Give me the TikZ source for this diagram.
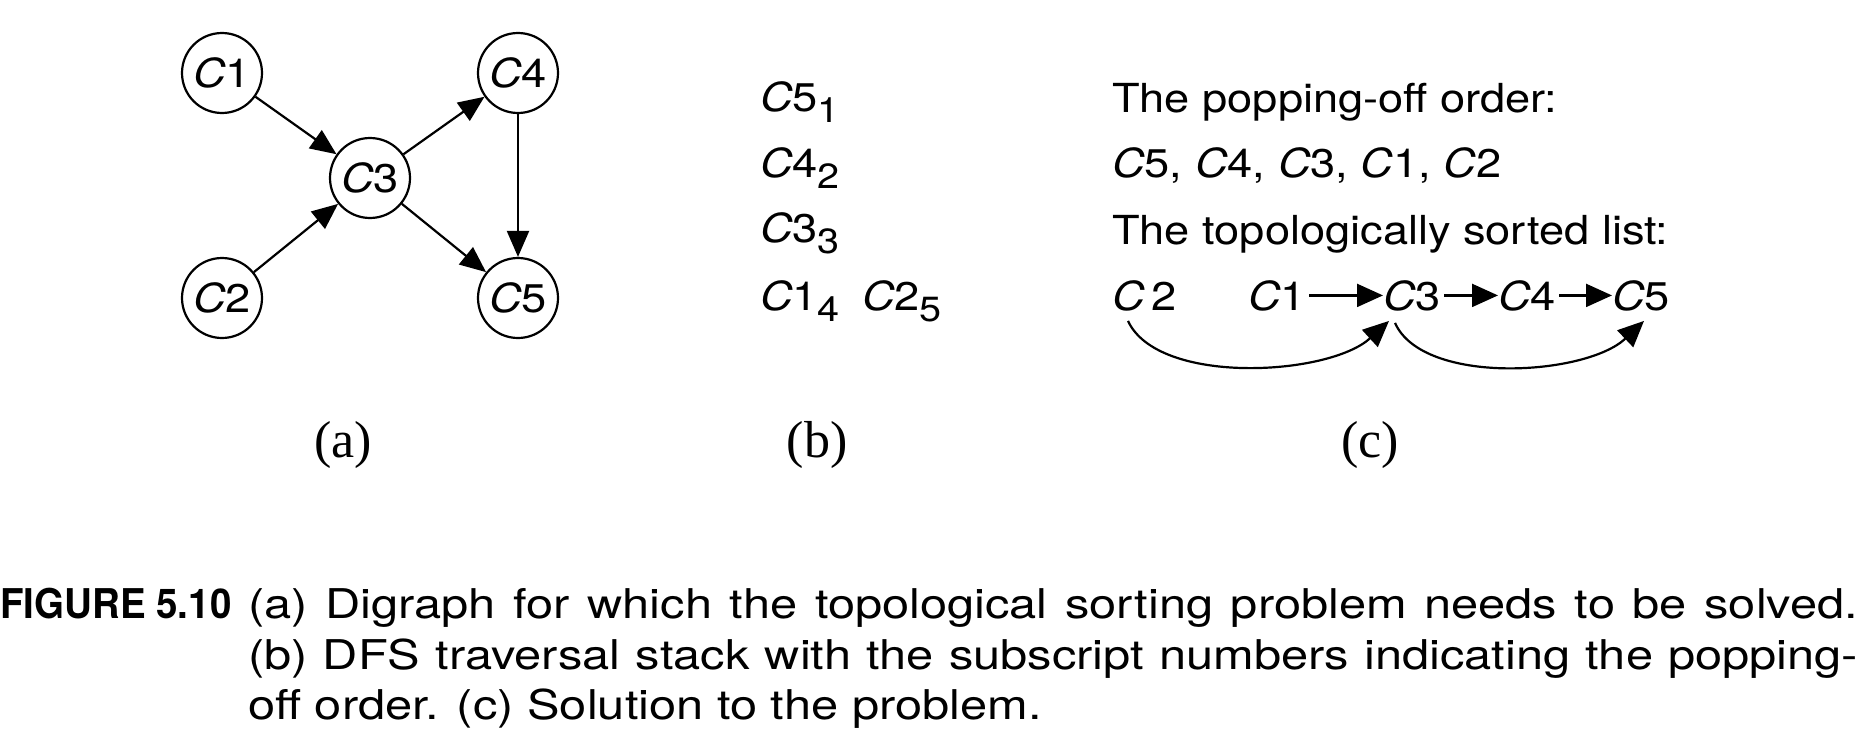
\documentclass[tikz,border=0pt]{standalone}
\usepackage{fontspec}
\setmainfont{TeX Gyre Heros}[FakeStretch=1.13]
\newfontfamily\capfont{TeX Gyre Heros}[FakeStretch=1.19]
\newfontfamily\figfont{TeX Gyre Heros}[FakeStretch=0.94]
\newfontfamily\capserif{Liberation Serif}
\usetikzlibrary{arrows.meta,calc}
\newcommand\mysub[1]{\raisebox{-11pt}{\fontsize{35}{35}\selectfont #1}}
\newcommand\Ci{\textit{C}}
\newcommand\capsetup{\capfont\fontsize{41}{45}\selectfont\spaceskip=0.33em plus 0.3em minus 0.1em\relax}
\begin{document}
\begin{tikzpicture}[x=1pt,y=-1pt,
  vert/.style={draw, circle, line width=2.2pt, minimum size=80pt, inner sep=0pt, font=\fontsize{40}{44}\selectfont},
  edge/.style={line width=2.2pt, -{Triangle[length=26pt,width=22pt]}},
  ledge/.style={line width=2.2pt, -{Triangle[length=26pt,width=23pt]}},
  txt/.style={anchor=base west, inner sep=0pt, font=\fontsize{40}{44}\selectfont},
  lbl/.style={anchor=base, inner sep=0pt, font=\capserif\fontsize{52}{56}\selectfont},
  captxt/.style={anchor=base west, inner sep=0pt, font=\capsetup},
  capbold/.style={anchor=base west, inner sep=0pt, font=\figfont\bfseries\fontsize{41}{45}\selectfont}]
\useasboundingbox (0,0) rectangle (1872,736);
% (a) digraph
\node[vert] (c1) at (222,73) {\Ci1};
\node[vert] (c4) at (518,73) {\Ci4};
\node[vert] (c3) at (370,178) {\Ci3};
\node[vert] (c2) at (222,298) {\Ci2};
\node[vert] (c5) at (518,298) {\Ci5};
\draw[edge] (c1) -- (c3);
\draw[edge] (c2) -- (c3);
\draw[edge] (c3) -- (c4);
\draw[edge] (c3) -- (c5);
\draw[edge] (c4) -- (c5);
% (b) stack
\node[txt] (b1) at (760,111) {\Ci5\mysub{1}};
\node[txt] (b2) at (760,177) {\Ci4\mysub{2}};
\node[txt] (b3) at (760,242) {\Ci3\mysub{3}};
\node[txt] (b4) at (760,310) {\Ci1\mysub{4}};
\node[txt] (b5) at (862,310) {\Ci2\mysub{5}};
% (c) solution
\node[txt] (t1) at (1112,112) {The popping-off order:};
\node[txt] (t2) at (1112,177) {\Ci5, \Ci4, \Ci3, \Ci1, \Ci2};
\node[txt] (t3) at (1112,244) {The topologically sorted list:};
\node[txt] (l2) at (1112,310) {\Ci\,2};
\node[txt] (l1) at (1248,310) {\Ci1};
\node[txt] (l3) at (1383,310) {\Ci3};
\node[txt] (l4) at (1498,310) {\Ci4};
\node[txt] (l5) at (1612,310) {\Ci5};
\draw[ledge, shorten <=3pt, shorten >=0pt] (l1) -- (l3);
\draw[ledge, shorten <=3pt, shorten >=0pt] (l3) -- (l4);
\draw[ledge, shorten <=3pt, shorten >=0pt] (l4) -- (l5);
\coordinate (s1) at ($(l2.south west)+(16,10)$);
\coordinate (e1) at ($(l3.south west)+(6,10)$);
\coordinate (s2) at ($(l3.south west)+(12,12)$);
\coordinate (e2) at ($(l5.south west)+(32,10)$);
\draw[ledge] (s1) .. controls +(30,65) and +(-60,55) .. (e1);
\draw[ledge] (s2) .. controls +(28,63) and +(-58,55) .. (e2);
% labels
\node[lbl] (la) at (343,457) {(a)};
\node[lbl] (lb) at (817,457) {(b)};
\node[lbl] (lc) at (1370,457) {(c)};
% caption
\node[capbold] (fig) at (0,618) {FIGURE 5.10};
\node[captxt] (cap1) at (248,618) {\makebox[1610pt][s]{(a) Digraph for which the topological sorting problem needs to be solved.}};
\node[captxt] (cap2) at (248,669) {\makebox[1610pt][s]{(b) DFS traversal stack with the subscript numbers indicating the popping-}};
\node[captxt] (cap3) at (248,719) {off order. (c) Solution to the problem.};
\end{tikzpicture}
\end{document}
